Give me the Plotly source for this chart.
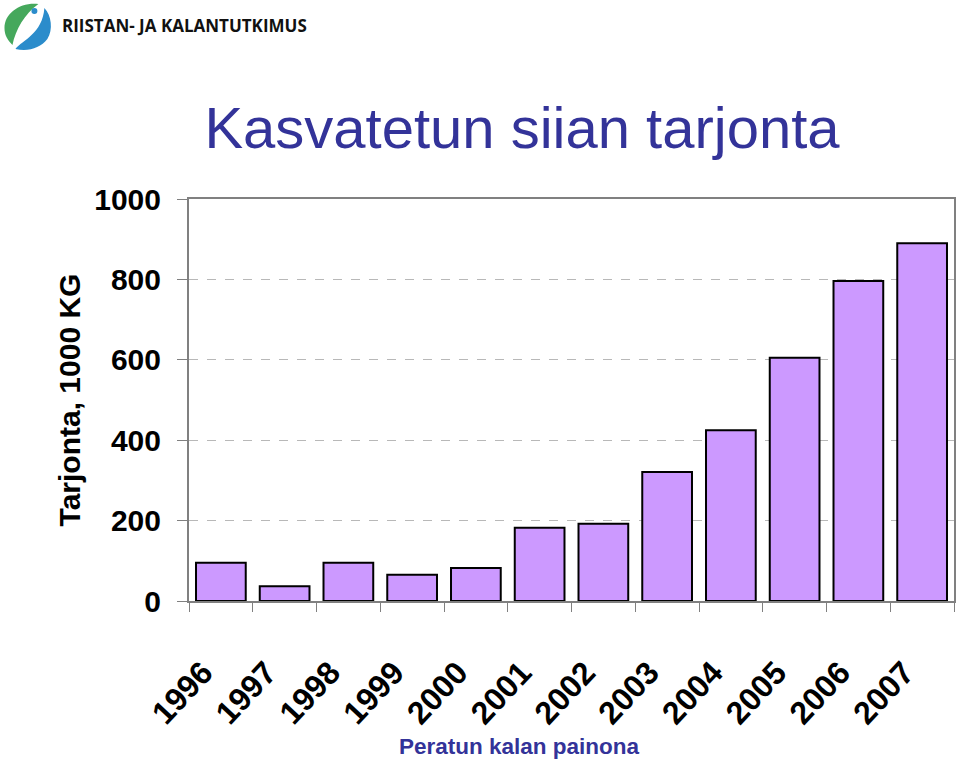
import plotly.graph_objects as go

years = ["1996", "1997", "1998", "1999", "2000", "2001", "2002", "2003", "2004", "2005", "2006", "2007"]
supply = [95, 37, 95, 65, 82, 182, 192, 321, 425, 605, 796, 890]
y_ticks = [0, 200, 400, 600, 800, 1000]

title_text = "Kasvatetun siian tarjonta"
x_title = "Peratun kalan painona"
y_title = "Tarjonta, 1000 KG"
logo_text = "RIISTAN- JA KALANTUTKIMUS"

W, H = 960, 763
L, R, T, B = 189, 4, 199, 162
PW, PH = W - L - R, H - T - B


def px(x, y):
    return (x - L) / PW, (H - B - y) / PH


def path(points_cmds):
    out = []
    for cmd, pts in points_cmds:
        coords = []
        for (x, y) in pts:
            a, b = px(x, y)
            coords.append(f"{a:.5f},{b:.5f}")
        out.append(cmd + " " + " ".join(coords))
    return " ".join(out) + " Z"


fig = go.Figure()
fig.add_trace(go.Bar(
    x=years, y=supply,
    marker=dict(color="#CC99FF", line=dict(color="#000000", width=2)),
    showlegend=False,
))

shapes = [
    dict(type="path", xref="paper", yref="paper",
         path=path([("M", [(38, 4)]), ("C", [(20, 2), (4, 13), (4, 28)]),
                    ("C", [(4, 35), (7, 40), (12, 45)]),
                    ("C", [(15, 30), (24, 14), (38, 4)])]),
         fillcolor="#45A85C", line=dict(width=0)),
    dict(type="path", xref="paper", yref="paper",
         path=path([("M", [(44, 8)]), ("C", [(51, 15), (53, 30), (47, 39)]),
                    ("C", [(40, 48), (28, 52), (15, 49)]),
                    ("C", [(22, 40), (42, 34), (44, 8)])]),
         fillcolor="#2B8CCB", line=dict(width=0)),
]
cx, cy = px(31, 8)
cx2, cy2 = px(37, 14)
shapes.append(dict(type="circle", xref="paper", yref="paper",
                   x0=min(cx, cx2), x1=max(cx, cx2), y0=min(cy, cy2), y1=max(cy, cy2),
                   fillcolor="#2B8CCB", line=dict(width=0)))

lx, ly = px(60, 25)
xtx, xty = px(520, 746)
annotations = [
    dict(text=logo_text, xref="paper", yref="paper", x=lx, y=ly,
         xanchor="left", yanchor="middle", showarrow=False,
         font=dict(family="Open Sans", size=17, color="#111111", weight="bold")),
    dict(text=x_title, xref="paper", yref="paper", x=xtx, y=xty,
         xanchor="center", yanchor="middle", showarrow=False,
         font=dict(family="Liberation Sans, Arial", size=22.5, color="#333399", weight="bold")),
]

fig.update_layout(
    width=W, height=H,
    margin=dict(l=L, r=R, t=T, b=B),
    paper_bgcolor="white", plot_bgcolor="white",
    title=dict(text=title_text, x=522 / W, xref="container", xanchor="center",
               y=1 - 128 / H, yref="container", yanchor="middle",
               font=dict(family="Liberation Sans, Arial", size=58, color="#333399")),
    bargap=0.22,
    shapes=shapes,
    annotations=annotations,
    xaxis=dict(
        type="category", tickangle=-47, ticklabelstandoff=38, ticklabelshift=-18,
        tickfont=dict(family="Liberation Sans, Arial", size=32, color="black", weight="bold"),
        showline=True, mirror=True, linecolor="#808080", linewidth=2,
        ticks="outside", tickson="boundaries", ticklen=9, tickcolor="#808080", tickwidth=1,
        showgrid=False,
    ),
    yaxis=dict(
        range=[0, 1000], tickvals=y_ticks,
        tickfont=dict(family="Liberation Sans, Arial", size=30, color="black", weight="bold"),
        ticklabelstandoff=10,
        showline=True, mirror=True, linecolor="#808080", linewidth=2,
        ticks="outside", ticklen=10, tickcolor="#808080", tickwidth=1,
        showgrid=True, gridcolor="#B8B8B8", griddash="dash", gridwidth=1,
        zeroline=False,
        title=dict(text=y_title, standoff=5,
                   font=dict(family="Liberation Sans, Arial", size=30, color="black", weight="bold")),
    ),
)

fig.write_html("out.html")
